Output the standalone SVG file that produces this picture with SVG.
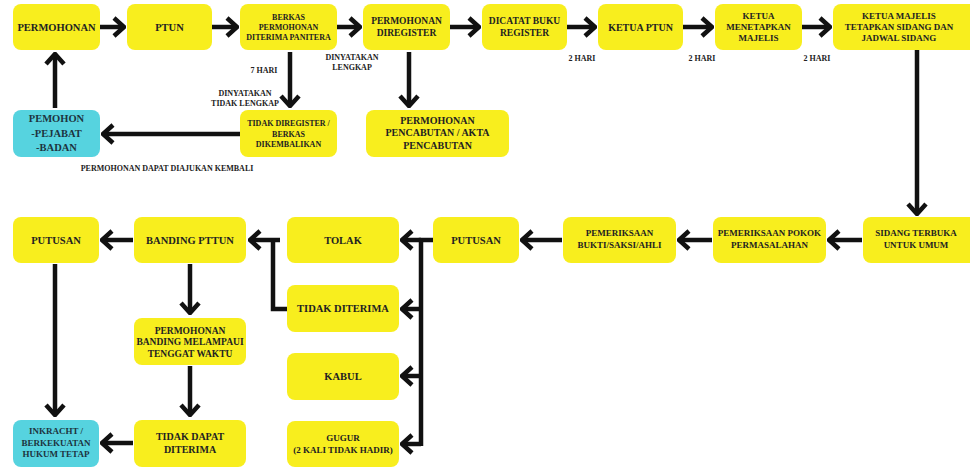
<svg xmlns="http://www.w3.org/2000/svg" width="970" height="470" viewBox="0 0 970 470">
<defs>
<style>
.y{fill:#F8EE1E}
.c{fill:#56D3DF}
text{font-family:"Liberation Serif","DejaVu Serif",serif;font-weight:bold;fill:#222;text-anchor:middle}
.ct{fill:#1d3440}
.f11{font-size:10.5px}
.f10{font-size:10px}
.f95{font-size:9.5px}
.f9{font-size:9px}
.f8{font-size:8px}
.lbl{font-size:8px;fill:#222}
.ln{fill:none;stroke:#111;stroke-width:4.5}
</style>
<marker id="ah" markerUnits="userSpaceOnUse" viewBox="0 0 14 22" markerWidth="14" markerHeight="22" refX="12" refY="11" orient="auto">
<path d="M2,2 L12,11 L2,20" fill="none" stroke="#111" stroke-width="4.5"/>
</marker>
</defs>
<rect width="970" height="470" fill="#fff"/>

<g id="connectors">
<path class="ln" d="M100,27 H124" marker-end="url(#ah)"/>
<path class="ln" d="M212,27 H237" marker-end="url(#ah)"/>
<path class="ln" d="M337,27 H360" marker-end="url(#ah)"/>
<path class="ln" d="M450,27 H479" marker-end="url(#ah)"/>
<path class="ln" d="M567,27 H595" marker-end="url(#ah)"/>
<path class="ln" d="M683,27 H712" marker-end="url(#ah)"/>
<path class="ln" d="M802,27 H830" marker-end="url(#ah)"/>
<path class="ln" d="M290,52 V106" marker-end="url(#ah)"/>
<path class="ln" d="M409,52 V106" marker-end="url(#ah)"/>
<path class="ln" d="M240,134 H103" marker-end="url(#ah)"/>
<path class="ln" d="M55,108 V54" marker-end="url(#ah)"/>
<path class="ln" d="M917,50 V214" marker-end="url(#ah)"/>
<path class="ln" d="M862,240 H829" marker-end="url(#ah)"/>
<path class="ln" d="M712,240 H679" marker-end="url(#ah)"/>
<path class="ln" d="M562,240 H522" marker-end="url(#ah)"/>
<path class="ln" d="M433,240 H421 V446"/>
<path class="ln" d="M421,240 H402" marker-end="url(#ah)"/>
<path class="ln" d="M421,309 H402" marker-end="url(#ah)"/>
<path class="ln" d="M421,376 H402" marker-end="url(#ah)"/>
<path class="ln" d="M421,444 H402" marker-end="url(#ah)"/>
<path class="ln" d="M287,309 H273 V240"/>
<path class="ln" d="M280,240 H250" marker-end="url(#ah)"/>
<path class="ln" d="M133,240 H102" marker-end="url(#ah)"/>
<path class="ln" d="M190,264 V313" marker-end="url(#ah)"/>
<path class="ln" d="M190,366 V415" marker-end="url(#ah)"/>
<path class="ln" d="M133,443 H102" marker-end="url(#ah)"/>
<path class="ln" d="M55,264 V415" marker-end="url(#ah)"/>
</g>

<g id="labels">
<text class="lbl" x="264" y="73">7 HARI</text>
<text class="lbl" x="245" y="96">DINYATAKAN</text>
<text class="lbl" x="245" y="106">TIDAK LENGKAP</text>
<text class="lbl" x="352" y="60">DINYATAKAN</text>
<text class="lbl" x="352" y="70">LENGKAP</text>
<text class="lbl" x="582" y="61">2 HARI</text>
<text class="lbl" x="702" y="61">2 HARI</text>
<text class="lbl" x="817" y="61">2 HARI</text>
<text class="lbl" x="167" y="171">PERMOHONAN DAPAT DIAJUKAN KEMBALI</text>
</g>

<g id="n-permohonan"><rect class="y" x="13" y="4" width="87" height="46" rx="8"/><text class="f11" x="56.5" y="30.7">PERMOHONAN</text></g>
<g id="n-ptun"><rect class="y" x="127" y="4" width="85" height="46" rx="8"/><text class="f11" x="169.5" y="30.7">PTUN</text></g>
<g id="n-berkas"><rect class="y" x="240" y="4" width="97" height="46" rx="8"/><text class="f8" x="288.5"><tspan x="288.5" y="19.8">BERKAS</tspan><tspan x="288.5" y="29.8">PERMOHONAN</tspan><tspan x="288.5" y="39.8">DITERIMA PANITERA</tspan></text></g>
<g id="n-diregister"><rect class="y" x="363" y="4" width="87" height="46" rx="8"/><text class="f95" x="406.5"><tspan x="406.5" y="24.3">PERMOHONAN</tspan><tspan x="406.5" y="36.3">DIREGISTER</tspan></text></g>
<g id="n-dicatat"><rect class="y" x="482" y="4" width="85" height="46" rx="8"/><text class="f95" x="524.5"><tspan x="524.5" y="24.3">DICATAT BUKU</tspan><tspan x="524.5" y="36.3">REGISTER</tspan></text></g>
<g id="n-ketua-ptun"><rect class="y" x="598" y="4" width="85" height="46" rx="8"/><text class="f10" x="640.5" y="30.5">KETUA PTUN</text></g>
<g id="n-ketua-menetapkan"><rect class="y" x="715" y="4" width="87" height="46" rx="8"/><text class="f9" x="758.5"><tspan x="758.5" y="19.2">KETUA</tspan><tspan x="758.5" y="30.2">MENETAPKAN</tspan><tspan x="758.5" y="41.2">MAJELIS</tspan></text></g>
<g id="n-ketua-majelis"><rect class="y" x="833" y="4" width="145" height="46" rx="8"/><text class="f9" x="899"><tspan x="899" y="19.2">KETUA MAJELIS</tspan><tspan x="899" y="30.2">TETAPKAN SIDANG DAN</tspan><tspan x="899" y="41.2">JADWAL SIDANG</tspan></text></g>

<g id="n-pemohon"><rect class="c" x="13" y="110" width="87" height="47" rx="8"/><text class="f11 ct" x="56.5"><tspan x="56.5" y="122">PEMOHON</tspan><tspan x="56.5" y="137">-PEJABAT</tspan><tspan x="56.5" y="151">-BADAN</tspan></text></g>
<g id="n-tidak-diregister"><rect class="y" x="240" y="110" width="97" height="47" rx="8"/><text class="f8" x="288.5"><tspan x="288.5" y="126">TIDAK DIREGISTER /</tspan><tspan x="288.5" y="136.5">BERKAS</tspan><tspan x="288.5" y="147">DIKEMBALIKAN</tspan></text></g>
<g id="n-pencabutan"><rect class="y" x="366" y="110" width="143" height="47" rx="8"/><text class="f10" x="437.5"><tspan x="437.5" y="123.5">PERMOHONAN</tspan><tspan x="437.5" y="136">PENCABUTAN / AKTA</tspan><tspan x="437.5" y="148.5">PENCABUTAN</tspan></text></g>

<g id="n-sidang"><rect class="y" x="863" y="217" width="115" height="46" rx="8"/><text class="f9" x="916"><tspan x="916" y="236.2">SIDANG TERBUKA</tspan><tspan x="916" y="248.2">UNTUK UMUM</tspan></text></g>
<g id="n-pokok"><rect class="y" x="713" y="217" width="113" height="46" rx="8"/><text class="f9" x="769.5"><tspan x="769.5" y="236.2">PEMERIKSAAN POKOK</tspan><tspan x="769.5" y="248.2">PERMASALAHAN</tspan></text></g>
<g id="n-bukti"><rect class="y" x="563" y="217" width="113" height="46" rx="8"/><text class="f9" x="619.5"><tspan x="619.5" y="236.2">PEMERIKSAAN</tspan><tspan x="619.5" y="248.2">BUKTI/SAKSI/AHLI</tspan></text></g>
<g id="n-putusan-mid"><rect class="y" x="433" y="217" width="86" height="46" rx="8"/><text class="f11" x="476" y="243.7">PUTUSAN</text></g>
<g id="n-tolak"><rect class="y" x="287" y="217" width="112" height="46" rx="8"/><text class="f11" x="343" y="243.7">TOLAK</text></g>
<g id="n-tidak-diterima"><rect class="y" x="287" y="285" width="112" height="47" rx="8"/><text class="f11" x="343" y="312.2">TIDAK DITERIMA</text></g>
<g id="n-kabul"><rect class="y" x="287" y="353" width="112" height="47" rx="8"/><text class="f11" x="343" y="380.2">KABUL</text></g>
<g id="n-gugur"><rect class="y" x="287" y="421" width="112" height="46" rx="8"/><text class="f9" x="343"><tspan x="343" y="441">GUGUR</tspan><tspan x="343" y="453">(2 KALI TIDAK HADIR)</tspan></text></g>
<g id="n-banding"><rect class="y" x="134" y="217" width="112" height="46" rx="8"/><text class="f11" x="190" y="243.7">BANDING PTTUN</text></g>
<g id="n-putusan-left"><rect class="y" x="13" y="217" width="86" height="46" rx="8"/><text class="f11" x="56" y="243.7">PUTUSAN</text></g>
<g id="n-melampaui"><rect class="y" x="134" y="318" width="112" height="47" rx="8"/><text class="f95" x="190"><tspan x="190" y="333.5">PERMOHONAN</tspan><tspan x="190" y="345">BANDING MELAMPAUI</tspan><tspan x="190" y="356.5">TENGGAT WAKTU</tspan></text></g>
<g id="n-tidak-dapat"><rect class="y" x="134" y="420" width="112" height="47" rx="8"/><text class="f10" x="190"><tspan x="190" y="440">TIDAK DAPAT</tspan><tspan x="190" y="453">DITERIMA</tspan></text></g>
<g id="n-inkracht"><rect class="c" x="13" y="420" width="86" height="47" rx="8"/><text class="f9 ct" x="56"><tspan x="56" y="434">INKRACHT /</tspan><tspan x="56" y="445.5">BERKEKUATAN</tspan><tspan x="56" y="457">HUKUM TETAP</tspan></text></g>
</svg>
